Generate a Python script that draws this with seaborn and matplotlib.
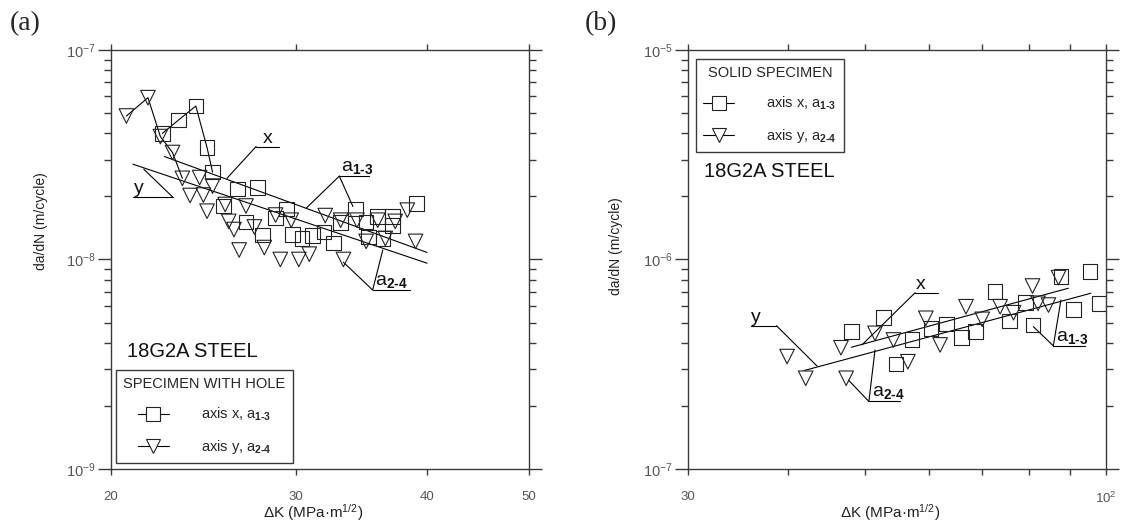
import numpy as np
import matplotlib
matplotlib.use("Agg")
import matplotlib.pyplot as plt
from matplotlib.lines import Line2D
from matplotlib.ticker import LogLocator, NullFormatter, NullLocator
import seaborn as sns

# ─── Data: panel (a), specimen with hole ─────────────────────────────────────
SQ_A_K = [22.4, 23.2, 24.1, 24.7, 25.0, 26.4, 27.6, 25.6, 26.9, 27.9, 28.7, 29.4, 29.8,
          30.4, 31.1, 31.9, 32.6, 33.1, 34.2, 35.0, 35.2, 35.9, 36.3, 37.1, 37.1, 39.1]
SQ_A_R = [4.00, 4.63, 5.40, 3.42, 2.61, 2.17, 2.20, 1.80, 1.51, 1.31, 1.58, 1.74, 1.32,
          1.26, 1.30, 1.35, 1.20, 1.50, 1.74, 1.51, 1.28, 1.60, 1.26, 1.60, 1.45, 1.85]  # x1e-8
TR_A_K = [20.7, 21.7, 22.3, 22.9, 23.4, 24.3, 25.0, 23.8, 24.5, 24.7, 25.7, 26.9, 25.9, 26.2,
          27.4, 26.5, 28.0, 28.7, 29.7, 29.0, 30.2, 30.9, 32.0, 33.1, 33.3, 34.3, 35.0, 35.9,
          36.5, 37.3, 38.3, 39.0]
TR_A_R = [4.84, 5.92, 3.86, 3.24, 2.44, 2.46, 2.24, 2.02, 2.03, 1.70, 1.83, 1.80, 1.52, 1.39,
          1.43, 1.11, 1.14, 1.63, 1.54, 1.00, 1.00, 1.06, 1.62, 1.54, 1.00, 1.54, 1.22, 1.54,
          1.26, 1.52, 1.72, 1.22]  # x1e-8
FIT_A_X_K, FIT_A_X_R = [22.5, 40.0], [3.10e-8, 1.08e-8]
FIT_A_Y_K, FIT_A_Y_R = [21.0, 40.0], [2.85e-8, 0.96e-8]

# ─── Data: panel (b), solid specimen ─────────────────────────────────────────
SQ_B_K = [48.0, 52.7, 54.6, 57.2, 60.4, 63.1, 65.9, 68.6, 72.6, 75.7, 79.3, 81.0, 87.8,
          91.0, 95.5, 98.0]
SQ_B_R = [4.52, 5.28, 3.17, 4.16, 4.69, 4.91, 4.25, 4.52, 7.02, 5.09, 6.22, 4.87, 8.28,
          5.78, 8.75, 6.18]  # x1e-7
TR_B_K = [39.9, 42.1, 46.6, 47.3, 51.4, 54.2, 56.5, 59.5, 62.0, 66.8, 70.0, 73.7, 76.6,
          80.9, 82.2, 84.7, 87.2]
TR_B_R = [3.44, 2.71, 3.79, 2.71, 4.44, 4.13, 3.25, 5.24, 3.91, 5.95, 5.18, 5.95, 5.57,
          7.47, 6.18, 6.06, 8.19]  # x1e-7
FIT_B_X_K, FIT_B_X_R = [48.0, 89.7], [3.81e-7, 7.29e-7]
FIT_B_Y_K, FIT_B_Y_R = [41.9, 95.7], [2.95e-7, 6.90e-7]

# callouts: text, underline (k0, k1), underline rate, leader from 'left'/'right' end,
# leader targets, text nudge (pt)
SUB13 = r"a$_{\mathbf{1‐3}}$"
SUB24 = r"a$_{\mathbf{2‐4}}$"
CALLOUTS_A = [
    ("x", (27.5, 28.9), 3.46e-8, "left", [(25.8, 2.44e-8)], 4.5),
    ("y", (21.0, 22.9), 1.99e-8, "right", [(21.5, 2.70e-8)], 1.0),
    (SUB13, (33.0, 35.2), 2.50e-8, "left", [(30.7, 1.76e-8), (34.0, 1.79e-8)], 1.0),
    (SUB24, (35.5, 38.5), 7.15e-9, "left", [(33.3, 9.7e-9), (36.3, 1.11e-8)], 1.5),
]
CALLOUTS_B = [
    ("x", (57.7, 61.7), 6.94e-7, "left", [(49.5, 3.91e-7)], 0.5),
    ("y", (36.0, 38.7), 4.83e-7, "right", [(43.5, 3.10e-7)], 0.0),
    (SUB13, (85.9, 94.1), 3.87e-7, "left", [(87.8, 6.41e-7), (81.1, 4.78e-7)], 2.0),
    (SUB24, (50.5, 55.3), 2.10e-7, "left", [(51.4, 3.70e-7), (47.6, 2.66e-7)], 2.0),
]

XTICKS_A = [20, 30, 40, 50]
XLABELS_A = ["20", "30", "40", "50"]
XTICKS_B = [30, 40, 50, 60, 70, 80, 90, 100]
XLABELS_B = ["30", "", "", "", "", "", "", r"$\mathdefault{10^{2}}$"]

LEGEND_LABELS = ["axis x, " + SUB13, "axis y, " + SUB24]
STEEL = "18G2A STEEL"
XLABEL = r"ΔK (MPa·m$^{\mathregular{1/2}}$)"
YLABEL = "da/dN (m/cycle)"

# ─── Styling ─────────────────────────────────────────────────────────────────
sns.set_theme(style="ticks")
plt.rcParams["font.family"] = ["Liberation Sans", "DejaVu Sans"]
plt.rcParams["mathtext.fontset"] = "custom"
plt.rcParams["mathtext.rm"] = "Liberation Sans"
plt.rcParams["mathtext.bf"] = "Liberation Sans:bold"
plt.rcParams["mathtext.it"] = "Liberation Sans:italic"

EDGE = "#222222"
SPINE = "#3a3a3a"
TICKLAB = "#555555"
LW = 0.8
MS = 10.5


def style_axes(ax, xlim, ylim, xticks, xlabels):
    ax.set_xscale("log")
    ax.set_yscale("log")
    ax.set_xlim(*xlim)
    ax.set_ylim(*ylim)
    ax.set_xticks(xticks, xlabels)
    ax.xaxis.set_minor_locator(NullLocator())
    ax.yaxis.set_major_locator(LogLocator(base=10))
    ax.yaxis.set_minor_locator(LogLocator(base=10, subs=np.arange(2, 10)))
    ax.yaxis.set_minor_formatter(NullFormatter())
    for sp in ax.spines.values():
        sp.set_visible(True)
        sp.set_color(SPINE)
        sp.set_linewidth(1.0)
    ax.tick_params(which="both", direction="out", top=True, right=True,
                   color=SPINE, width=1.0, labelcolor=TICKLAB)
    ax.tick_params(axis="y", which="major", length=9.5, pad=1.5, labelsize=10.5)
    ax.tick_params(axis="y", which="minor", length=5)
    ax.tick_params(axis="x", which="major", length=4.5, pad=11, labelsize=9.5)
    ax.set_xlabel(XLABEL, fontsize=11, color="#222222")
    ax.set_ylabel(YLABEL, fontsize=10, color="#222222")


def draw_points(ax, k, r, marker):
    sns.scatterplot(x=k, y=r, marker=marker, s=MS ** 2, facecolor="none",
                    edgecolor=EDGE, linewidth=LW, ax=ax, zorder=3)


def draw_line(ax, k, r):
    sns.lineplot(x=k, y=r, sort=False, estimator=None, color="black",
                 linewidth=LW, ax=ax, zorder=2)


def draw_callouts(ax, callouts):
    for text, (k0, k1), r, side, targets, dx in callouts:
        ax.plot([k0, k1], [r, r], color="black", lw=LW)
        start = k0 if side == "left" else k1
        for tk, tr in targets:
            ax.plot([start, tk], [r, tr], color="black", lw=LW)
        ax.annotate(text, xy=(k0, r), xytext=(dx, 0), textcoords="offset points",
                    ha="left", va="bottom", fontsize=14, color="#111111")


def add_legend(ax, title, **kw):
    handles = [
        Line2D([], [], color="black", lw=LW, marker="s", ms=MS, mfc="white", mec=EDGE, mew=LW),
        Line2D([], [], color="black", lw=LW, marker="v", ms=MS, mfc="white", mec=EDGE, mew=LW),
    ]
    leg = ax.legend(handles, LEGEND_LABELS, title=title, borderaxespad=0, frameon=True,
                    fancybox=False, edgecolor=SPINE, framealpha=1, fontsize=10.5,
                    title_fontsize=10.5, handlelength=2.1, handletextpad=2.2,
                    labelspacing=1.0, borderpad=0.5, **kw)
    leg.get_frame().set_linewidth(1.0)


fig = plt.figure(figsize=(11.25, 5.24), dpi=100)
ax_a = fig.add_axes([0.0984, 0.105, 0.3718, 0.7996])
ax_b = fig.add_axes([0.6116, 0.105, 0.3716, 0.7996])

# ─── Panel (a) ───────────────────────────────────────────────────────────────
style_axes(ax_a, (20, 50), (1e-9, 1e-7), XTICKS_A, XLABELS_A)
sq_a = np.array(SQ_A_R) * 1e-8
tr_a = np.array(TR_A_R) * 1e-8
draw_line(ax_a, SQ_A_K[:5], sq_a[:5])
draw_line(ax_a, TR_A_K[:5], tr_a[:5])
draw_line(ax_a, FIT_A_X_K, FIT_A_X_R)
draw_line(ax_a, FIT_A_Y_K, FIT_A_Y_R)
draw_points(ax_a, SQ_A_K, sq_a, "s")
draw_points(ax_a, TR_A_K, tr_a, "v")
draw_callouts(ax_a, CALLOUTS_A)
ax_a.text(0.038, 0.28, STEEL, transform=ax_a.transAxes, fontsize=14.5, va="center", color="#111111")
add_legend(ax_a, "SPECIMEN WITH HOLE", loc="lower left", bbox_to_anchor=(0.013, 0.014))
ax_a.yaxis.set_label_coords(-0.150, 0.592)
ax_a.xaxis.set_label_coords(0.483, -0.078)

# ─── Panel (b) ───────────────────────────────────────────────────────────────
style_axes(ax_b, (30, 100), (1e-7, 1e-5), XTICKS_B, XLABELS_B)
sq_b = np.array(SQ_B_R) * 1e-7
tr_b = np.array(TR_B_R) * 1e-7
draw_line(ax_b, FIT_B_X_K, FIT_B_X_R)
draw_line(ax_b, FIT_B_Y_K, FIT_B_Y_R)
draw_points(ax_b, SQ_B_K, sq_b, "s")
draw_points(ax_b, TR_B_K, tr_b, "v")
draw_callouts(ax_b, CALLOUTS_B)
ax_b.text(0.037, 0.71, STEEL, transform=ax_b.transAxes, fontsize=14.5, va="center", color="#111111")
add_legend(ax_b, "SOLID SPECIMEN", loc="upper left", bbox_to_anchor=(0.019, 0.978))
ax_b.yaxis.set_label_coords(-0.155, 0.532)
ax_b.xaxis.set_label_coords(0.483, -0.078)

# panel tags
fig.text(0.009, 0.954, "(a)", family="Liberation Serif", fontsize=20, va="center")
fig.text(0.520, 0.954, "(b)", family="Liberation Serif", fontsize=20, va="center")

fig.savefig("out.png", dpi=100)
plt.close(fig)
